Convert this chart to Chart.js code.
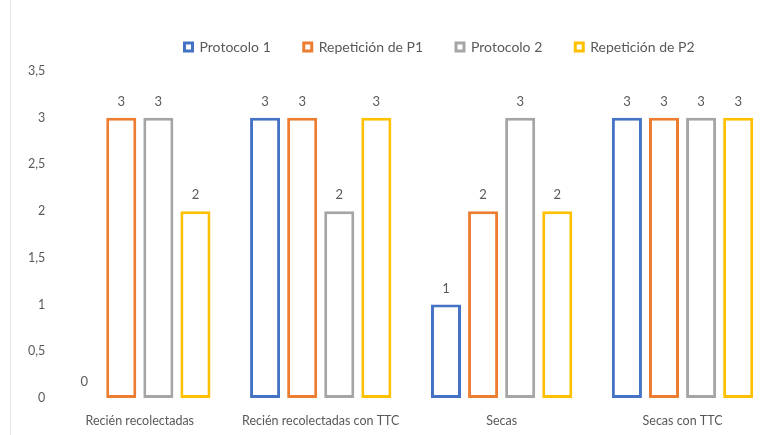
<!DOCTYPE html>
<html>
<head>
<meta charset="utf-8">
<script src="https://cdn.jsdelivr.net/npm/chart.js@4"></script>
<style>
  html, body { margin: 0; padding: 0; background: #fff; }
  #wrap { width: 779px; height: 435px; position: relative; }
  #wrap:before { content: ""; position: absolute; left: 10px; top: 0; bottom: 0; border-left: 1px solid #e6e6e6; }
</style>
</head>
<body>
<div id="wrap"><canvas id="chart" width="779" height="435"></canvas></div>
<script>
const categories = ["Recién recolectadas", "Recién recolectadas con TTC", "Secas", "Secas con TTC"]
const protocolo1 = [0, 3, 1, 3]
const repeticionP1 = [3, 3, 2, 3]
const protocolo2 = [3, 2, 3, 3]
const repeticionP2 = [2, 3, 2, 3]

const textColor = "#595959"
const fontName = "Lato, 'Open Sans', sans-serif"

// puts the value over each bar
const valueLabels = {
    id: "valueLabels",
    afterDatasetsDraw(chart) {
        const ctx = chart.ctx
        ctx.save()
        ctx.font = "13px " + fontName
        ctx.fillStyle = textColor
        ctx.textAlign = "center"
        ctx.textBaseline = "middle"
        chart.data.datasets.forEach((ds, i) => {
            const meta = chart.getDatasetMeta(i)
            meta.data.forEach((bar, j) => {
                ctx.fillText(String(ds.data[j]), bar.x, bar.y - 16)
            })
        })
        ctx.restore()
    }
}

// a bit more room under the legend, and legend sits a little right of centre
const legendGap = {
    id: "legendGap",
    beforeInit(chart) {
        const fit = chart.legend.fit
        chart.legend.fit = function () {
            fit.bind(chart.legend)()
            this.height += 7
        }
    },
    afterLayout(chart) {
        chart.legend.left += 41
        chart.legend.right += 41
    }
}

function makeDataset(label, values, color) {
    return {
        label: label,
        data: values,
        backgroundColor: "#ffffff",
        borderColor: color,
        borderWidth: 3,
        borderSkipped: false
    }
}

new Chart(document.querySelector("#chart"), {
    type: "bar",
    data: {
        labels: categories,
        datasets: [
            makeDataset("Protocolo 1", protocolo1, "#4472C4"),
            makeDataset("Repetición de P1", repeticionP1, "#ED7D31"),
            makeDataset("Protocolo 2", protocolo2, "#A5A5A5"),
            makeDataset("Repetición de P2", repeticionP2, "#FFC000")
        ]
    },
    options: {
        responsive: false,
        animation: false,
        layout: { padding: { left: 24, right: 6, top: 7, bottom: 0 } },
        datasets: { bar: { barPercentage: 0.81, categoryPercentage: 0.82 } },
        plugins: {
            legend: {
                position: "top",
                labels: {
                    boxWidth: 8,
                    boxHeight: 8,
                    padding: 33,
                    color: textColor,
                    font: { family: fontName, size: 14 }
                }
            },
            tooltip: { enabled: false }
        },
        scales: {
            x: {
                grid: { display: false, drawTicks: false },
                border: { display: false },
                ticks: { padding: 15, color: textColor, font: { family: fontName, size: 12.5 } },
                afterFit: scale => { scale.height = 37 }
            },
            y: {
                min: 0,
                max: 3.5,
                grid: { display: false, drawTicks: false },
                border: { display: false },
                ticks: {
                    stepSize: 0.5,
                    padding: 4,
                    color: textColor,
                    font: { family: fontName, size: 12.5 },
                    callback: v => String(v).replace(".", ",")
                }
            }
        }
    },
    plugins: [valueLabels, legendGap]
})
</script>
</body>
</html>
